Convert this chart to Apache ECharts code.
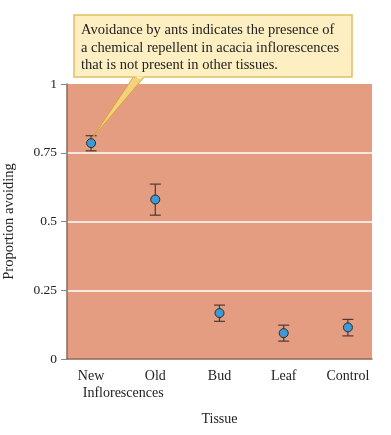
<!DOCTYPE html>
<html><head><meta charset="utf-8">
<script src="https://cdn.jsdelivr.net/npm/echarts@6/dist/echarts.min.js"></script>
<style>html,body{margin:0;padding:0;background:#fff}#c{width:391px;height:435px}</style>
</head><body><div id="c"></div>
<script>
const categories = ['New', 'Old', 'Bud', 'Leaf', 'Control'];
const groupLabel = 'Inflorescences';
const proportion = [0.785, 0.580, 0.167, 0.094, 0.115];
const errLow = [0.757, 0.523, 0.137, 0.065, 0.084];
const errHigh = [0.812, 0.636, 0.196, 0.123, 0.144];
const yTicks = [0, 0.25, 0.5, 0.75, 1];
const noteLines = ['Avoidance by ants indicates the presence of', 'a chemical repellent in acacia inflorescences', 'that is not present in other tissues.'];

const serif = '"Liberation Serif", "DejaVu Serif", serif';
const chart = echarts.init(document.getElementById('c'));
const pts = categories.map((c, i) => [i, proportion[i]]);
const errs = categories.map((c, i) => [i, errLow[i], errHigh[i]]);

chart.setOption({
  animation: false,
  grid: { left: 67, right: 19, top: 84, bottom: 76, show: true, backgroundColor: '#E59D81', borderWidth: 0,
    outerBoundsMode: 'none', containLabel: false },
  xAxis: [{
    type: 'value', min: -0.375, max: 4.375,
    name: 'Tissue', nameLocation: 'middle', nameGap: 53,
    nameTextStyle: { fontFamily: serif, fontSize: 14, color: '#222' },
    axisLine: { show: true, onZero: false, lineStyle: { color: '#8a6a5e', width: 1.5 } },
    axisTick: { show: false },
    splitLine: { show: false },
    axisLabel: {
      customValues: [0, 1, 2, 3, 4],
      fontFamily: serif, fontSize: 14, color: '#222', margin: 10,
      formatter: v => categories[v]
    }
  }, {
    type: 'value', min: -0.375, max: 4.375, position: 'bottom',
    axisLine: { show: false }, axisTick: { show: false }, splitLine: { show: false },
    axisLabel: {
      customValues: [0.5],
      fontFamily: serif, fontSize: 14, color: '#222', margin: 27,
      formatter: () => groupLabel
    }
  }],
  yAxis: {
    type: 'value', min: 0, max: 1, interval: 0.25,
    name: 'Proportion avoiding', nameLocation: 'middle', nameGap: 50,
    nameTextStyle: { fontFamily: serif, fontSize: 14.5, color: '#222' },
    axisLine: { show: true, onZero: false, lineStyle: { color: '#8a6a5e', width: 1.5 } },
    axisTick: { show: true, length: 6, lineStyle: { color: '#888' } },
    splitLine: { show: true, showMinLine: false, showMaxLine: false, lineStyle: { color: '#ffffff', width: 1.5 } },
    axisLabel: { fontFamily: serif, fontSize: 13.5, color: '#222', margin: 10,
      customValues: yTicks, formatter: v => String(v) }
  },
  series: [
    {
      type: 'custom', data: errs, z: 3,
      renderItem: (params, api) => {
        const x = api.value(0);
        const lo = api.coord([x, api.value(1)]);
        const hi = api.coord([x, api.value(2)]);
        const w = 5.5;
        const st = { stroke: '#4a3a36', lineWidth: 1.2 };
        return { type: 'group', children: [
          { type: 'line', shape: { x1: lo[0], y1: lo[1], x2: hi[0], y2: hi[1] }, style: st },
          { type: 'line', shape: { x1: lo[0] - w, y1: lo[1], x2: lo[0] + w, y2: lo[1] }, style: st },
          { type: 'line', shape: { x1: hi[0] - w, y1: hi[1], x2: hi[0] + w, y2: hi[1] }, style: st }
        ]};
      }
    },
    {
      type: 'scatter', data: pts, z: 4, symbolSize: 9,
      itemStyle: { color: '#3E9AD6', borderColor: '#2a2a2a', borderWidth: 1, opacity: 1 }
    }
  ]
});

const tip = chart.convertToPixel({ seriesIndex: 1 }, pts[0]);
chart.setOption({
  graphic: [
    { type: 'polygon', z: 10, shape: { points: [[134, 76], [145, 76], [tip[0] + 1, tip[1] - 5]] },
      style: { fill: '#F2D27A', stroke: '#D29A2E', lineWidth: 0.8 } },
    { type: 'rect', z: 11, shape: { x: 74, y: 15, width: 278, height: 62 },
      style: { fill: '#FDEFC2', stroke: '#E3BD63', lineWidth: 1.5 } },
    { type: 'polygon', z: 12, shape: { points: [[135, 76.5], [144, 76.5], [139.5, 79]] },
      style: { fill: '#FDEFC2' } },
    { type: 'text', z: 13, x: 81, y: 21.5,
      style: { text: noteLines.join('\n'), font: '14.5px ' + serif, fill: '#222', lineHeight: 17.5 } }
  ]
});
</script></body></html>
